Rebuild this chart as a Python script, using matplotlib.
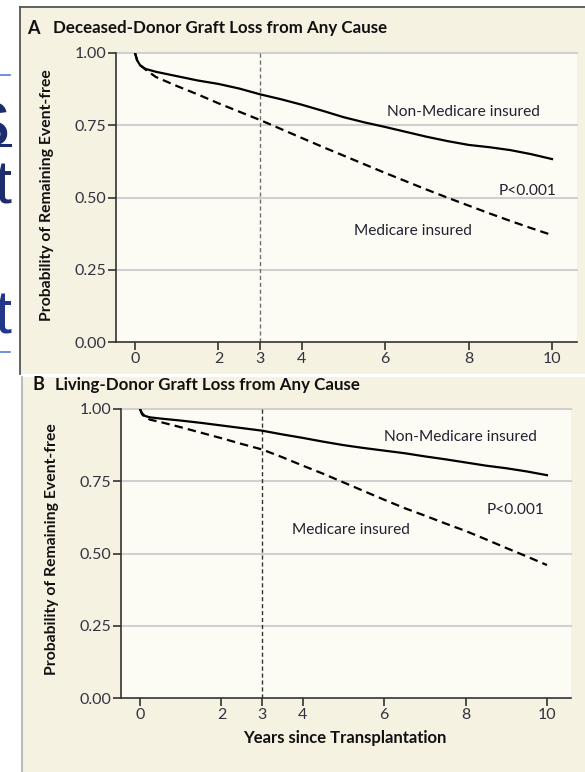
import matplotlib
matplotlib.use("Agg")
import matplotlib.pyplot as plt
from matplotlib.patches import Rectangle
from matplotlib.lines import Line2D

W, H = 585, 772

# ---- data ----
years = [0, 0.05, 0.12, 0.25, 0.5, 1.0, 1.5, 2.0, 2.5, 3.0, 3.5, 4.0, 4.5,
         5.0, 5.5, 6.0, 6.5, 7.0, 7.5, 8.0, 8.5, 9.0, 9.5, 10.0]

deceased_non_medicare = [1.0, 0.975, 0.958, 0.945, 0.935, 0.920, 0.905, 0.893,
                         0.877, 0.857, 0.840, 0.821, 0.800, 0.778, 0.760, 0.744,
                         0.727, 0.710, 0.695, 0.682, 0.674, 0.664, 0.650, 0.633]
deceased_medicare = [1.0, 0.975, 0.958, 0.943, 0.917, 0.886, 0.857, 0.826,
                     0.797, 0.768, 0.737, 0.706, 0.675, 0.645, 0.615, 0.585,
                     0.556, 0.527, 0.499, 0.472, 0.445, 0.419, 0.394, 0.370]

living_non_medicare = [1.0, 0.985, 0.976, 0.971, 0.967, 0.960, 0.952, 0.943,
                       0.934, 0.925, 0.912, 0.900, 0.887, 0.875, 0.865, 0.856,
                       0.847, 0.836, 0.826, 0.815, 0.804, 0.795, 0.784, 0.771]
living_medicare = [1.0, 0.982, 0.972, 0.963, 0.955, 0.937, 0.918, 0.899,
                   0.879, 0.860, 0.833, 0.804, 0.776, 0.746, 0.716, 0.686,
                   0.657, 0.631, 0.604, 0.578, 0.549, 0.519, 0.490, 0.460]

x_ticks = [0, 2, 3, 4, 6, 8, 10]
y_ticks = [0.0, 0.25, 0.50, 0.75, 1.00]

plt.rcParams["font.family"] = ["Lato", "DejaVu Sans"]

TEXT = "#222233"
PANEL_BG = "#f5f2e2"
PLOT_BG = "#fdfcf4"


def fx(px):
    return px / W


def fy(py):
    return 1 - py / H


fig = plt.figure(figsize=(W / 100, H / 100), dpi=100)
fig.patch.set_facecolor("white")

# fragments of the slide behind the figure (left edge)
fig.add_artist(Line2D([0, fx(10)], [fy(75), fy(75)], color="#5b7bd6", lw=1.2, zorder=-5))
fig.add_artist(Line2D([0, fx(10)], [fy(352), fy(352)], color="#5b7bd6", lw=1.2, zorder=-5))
fig.text(fx(10), fy(145), "s", ha="right", va="baseline", fontsize=58,
         color="#1c2c6c", family="Liberation Sans", zorder=-5)
fig.add_artist(Line2D([0, fx(10)], [fy(145), fy(145)], color="#1c2c6c", lw=2.2, zorder=-5))
fig.text(fx(11), fy(203), "t", ha="right", va="baseline", fontsize=44,
         color="#1c2c6c", family="Liberation Sans", zorder=-5)
fig.text(fx(11), fy(333), "t", ha="right", va="baseline", fontsize=44,
         color="#23378a", family="Liberation Sans", zorder=-5)

# panel backgrounds
fig.add_artist(Rectangle((fx(20), fy(374)), fx(565), (374 - 7) / H,
                         transform=fig.transFigure, facecolor=PANEL_BG,
                         edgecolor="none", zorder=-2))
fig.add_artist(Line2D([fx(20), fx(20)], [fy(374), fy(7)], color="#555555", lw=1.3, zorder=-1))
fig.add_artist(Line2D([fx(20), 1], [fy(7), fy(7)], color="#555555", lw=1.3, zorder=-1))
fig.add_artist(Rectangle((fx(22), 0), fx(563), (H - 377) / H,
                         transform=fig.transFigure, facecolor=PANEL_BG,
                         edgecolor="none", zorder=-2))
fig.add_artist(Line2D([fx(22), fx(22)], [0, fy(377)], color="#b5b5b5", lw=1.3, zorder=-1))


def draw_panel(rect, xlim, non_med, med, vline_color, labels):
    ax = fig.add_axes(rect)
    ax.set_facecolor(PLOT_BG)
    ax.set_xlim(*xlim)
    ax.set_ylim(0, 1.0)
    for y in y_ticks[1:]:
        ax.axhline(y, color="#d0d0d0", lw=1.5, zorder=1, clip_on=False)
    ax.plot([3, 3], [0, 1], color=vline_color, lw=1.0, dashes=(3, 2), zorder=2)
    ax.plot(years, non_med, color="black", lw=1.6, zorder=3)
    ax.plot(years, med, color="black", lw=1.6, dashes=(3.8, 2.3), zorder=3)

    for side in ("top", "right"):
        ax.spines[side].set_visible(False)
    for side in ("left", "bottom"):
        ax.spines[side].set_color("#333333")
        ax.spines[side].set_linewidth(1.2)
    ax.set_xticks(x_ticks)
    ax.set_xticklabels([str(t) for t in x_ticks])
    ax.set_yticks(y_ticks)
    ax.set_yticklabels([f"{t:.2f}" for t in y_ticks])
    ax.tick_params(direction="out", length=5.5, width=1.2, color="#333333",
                   labelsize=11.5, labelcolor="#333340", pad=1.5)

    (nm_x, nm_y), (p_x, p_y), (m_x, m_y) = labels
    ax.text(nm_x, nm_y, "Non-Medicare insured", fontsize=11.2, color=TEXT,
            ha="left", va="center")
    ax.text(p_x, p_y, "P<0.001", fontsize=11.2, color=TEXT, ha="right", va="center")
    ax.text(m_x, m_y, "Medicare insured", fontsize=11.2, color=TEXT,
            ha="left", va="center")
    return ax


# Panel A
draw_panel([fx(116), fy(342), fx(577 - 116), (342 - 53) / H], (-0.456, 10.6),
           deceased_non_medicare, deceased_medicare, "#707070",
           [(6.04, 0.796), (10.1, 0.524), (5.25, 0.385)])
# Panel B
draw_panel([fx(121), fy(698), fx(571 - 121), (698 - 409) / H], (-0.467, 10.59),
           living_non_medicare, living_medicare, "#333333",
           [(6.0, 0.904), (9.95, 0.65), (3.73, 0.581)])

# titles
fig.text(fx(27), fy(28), "A", fontsize=13, fontweight="bold", color="#111111", va="center")
fig.text(fx(53), fy(28), "Deceased-Donor Graft Loss from Any Cause", fontsize=12.2,
         fontweight="bold", color="#111111", va="center")
fig.text(fx(32), fy(385), "B", fontsize=13, fontweight="bold", color="#111111", va="center")
fig.text(fx(55), fy(385), "Living-Donor Graft Loss from Any Cause", fontsize=12.2,
         fontweight="bold", color="#111111", va="center")

# axis labels
fig.text(fx(47), fy(195), "Probability of Remaining Event-free", rotation=90,
         fontsize=11.3, fontweight="bold", color="#111111", ha="center", va="center")
fig.text(fx(52), fy(549), "Probability of Remaining Event-free", rotation=90,
         fontsize=11.3, fontweight="bold", color="#111111", ha="center", va="center")
fig.text(fx(345), fy(738), "Years since Transplantation", fontsize=12,
         fontweight="bold", color="#111111", ha="center", va="center")

fig.savefig("out.png", dpi=100)
